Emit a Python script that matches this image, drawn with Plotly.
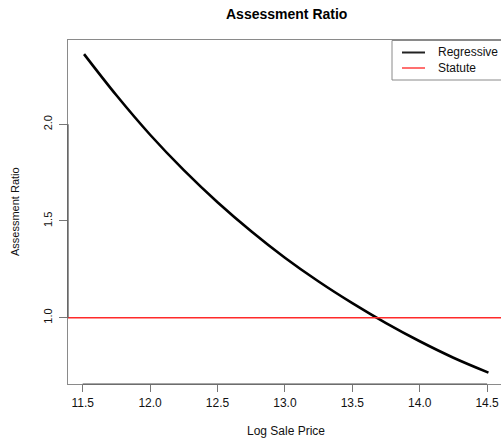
import plotly.graph_objects as go

# Data
log_sale_price = [11.51, 11.75, 12.0, 12.25, 12.5, 12.75, 13.0, 13.25, 13.5, 13.75, 14.0, 14.25, 14.51]
regressive_ratio = [2.363, 2.15, 1.946, 1.763, 1.597, 1.447, 1.31, 1.187, 1.075, 0.972, 0.878, 0.793, 0.716]
statute_ratio = 1.0
x_ticks = [11.5, 12.0, 12.5, 13.0, 13.5, 14.0, 14.5]
x_tick_labels = ["11.5", "12.0", "12.5", "13.0", "13.5", "14.0", "14.5"]
y_ticks = [1.0, 1.5, 2.0]
y_tick_labels = ["1.0", "1.5", "2.0"]
legend_names = ["Regressive", "Statute"]

FONT = "Liberation Sans, Arial, Helvetica, sans-serif"

fig = go.Figure()
fig.add_trace(go.Scatter(
    x=log_sale_price, y=regressive_ratio, mode="lines",
    line=dict(color="black", width=2.6, shape="spline", smoothing=1.0),
    name=legend_names[0], showlegend=False, hoverinfo="x+y"))

shapes = []
# Statute horizontal line across the whole plot
shapes.append(dict(type="line", xref="paper", yref="y", x0=0, x1=1,
                   y0=statute_ratio, y1=statute_ratio,
                   line=dict(color="#ff2a2a", width=1.5), layer="above"))
# darker axis segments (R axis() lines from first to last tick)
shapes.append(dict(type="line", xref="paper", yref="y", x0=0, x1=0,
                   y0=y_ticks[0], y1=y_ticks[-1], line=dict(color="#505050", width=1.2)))
shapes.append(dict(type="line", xref="x", yref="paper", x0=x_ticks[0], x1=x_ticks[-1],
                   y0=0, y1=0, line=dict(color="#505050", width=1.2)))

# Legend (drawn manually to match R's legend)
pw, ph = 501 - 68, 384 - 40
def px(xpix):
    return (xpix - 68) / pw
def py(ypix):
    return 1 - (ypix - 40) / ph

shapes.append(dict(type="rect", xref="paper", yref="paper",
                   x0=px(392), x1=px(520), y0=py(80), y1=py(40.5),
                   line=dict(color="#8a8a8a", width=1), fillcolor="white", layer="above"))
legend_colors = ["#222", "#ff4040"]
legend_widths = [2, 1.5]
legend_y = [52.5, 68]
annotations = []
for name, col, w, ly in zip(legend_names, legend_colors, legend_widths, legend_y):
    shapes.append(dict(type="line", xref="paper", yref="paper",
                       x0=px(402), x1=px(425), y0=py(ly), y1=py(ly),
                       line=dict(color=col, width=w), layer="above"))
    annotations.append(dict(text=name, xref="paper", yref="paper", x=px(436), y=py(ly),
                            xanchor="left", yanchor="middle", showarrow=False,
                            font=dict(family=FONT, size=12, color="#111")))

# Title & axis titles
annotations.append(dict(text="<b>Assessment Ratio</b>", xref="paper", yref="paper",
                        x=px(286), y=py(14), xanchor="center", yanchor="middle",
                        showarrow=False, font=dict(family=FONT, size=14, color="black")))
annotations.append(dict(text="Log Sale Price", xref="paper", yref="paper",
                        x=px(286), y=py(431), xanchor="center", yanchor="middle",
                        showarrow=False, font=dict(family=FONT, size=12, color="#111")))
annotations.append(dict(text="Assessment Ratio", xref="paper", yref="paper",
                        x=px(15), y=py(212), xanchor="center", yanchor="middle",
                        textangle=-90, showarrow=False,
                        font=dict(family=FONT, size=11, color="#111")))

fig.update_layout(
    width=501, height=438,
    margin=dict(l=68, r=0, t=40, b=54),
    paper_bgcolor="white", plot_bgcolor="white",
    showlegend=False,
    shapes=shapes, annotations=annotations,
    font=dict(family=FONT, size=11, color="#111"),
    xaxis=dict(range=[11.391, 14.603], tickvals=x_ticks, ticktext=x_tick_labels,
               showgrid=False, zeroline=False, showline=True, mirror=True,
               linecolor="#8a8a8a", linewidth=1, ticks="outside", ticklen=7,
               tickcolor="#777", tickwidth=1, ticklabelstandoff=1,
               tickfont=dict(family=FONT, size=12, color="#111")),
    yaxis=dict(range=[0.657, 2.436], tickvals=y_ticks, ticktext=y_tick_labels,
               showgrid=False, zeroline=False, showline=True, mirror=False,
               linecolor="#8a8a8a", linewidth=1, ticks="outside", ticklen=8,
               tickcolor="#777", tickwidth=1, tickangle=-90, ticklabelstandoff=3,
               tickfont=dict(family=FONT, size=11, color="#111")),
)

fig.write_html("out.html")
